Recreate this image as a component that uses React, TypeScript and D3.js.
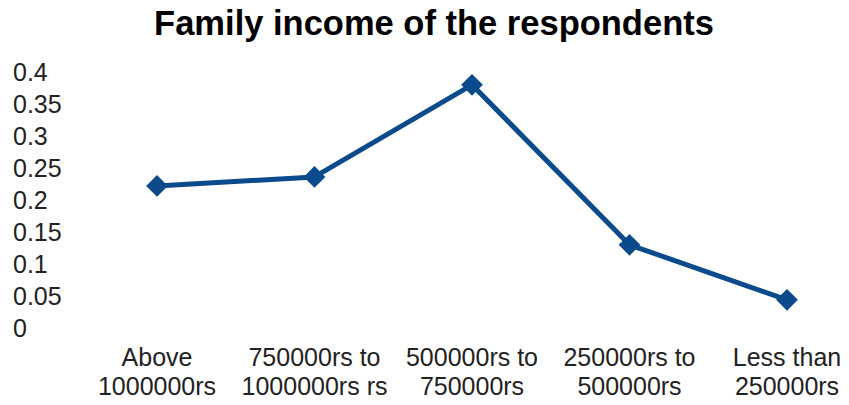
import React from "react";
import * as d3 from "d3";

const categories: string[][] = [
  ["Above", "1000000rs"],
  ["750000rs to", "1000000rs rs"],
  ["500000rs to", "750000rs"],
  ["250000rs to", "500000rs"],
  ["Less than", "250000rs"],
];
const values: number[] = [0.222, 0.236, 0.38, 0.13, 0.044];
const yTicks: number[] = [0, 0.05, 0.1, 0.15, 0.2, 0.25, 0.3, 0.35, 0.4];
const title = "Family income of the respondents";

const W = 849;
const H = 405;
const COLOR = "#0b4a8b";
const FONT = "'Liberation Sans', Arial, Helvetica, sans-serif";

export default function App() {
  const keys = categories.map((_, i) => String(i));
  const x = d3.scalePoint<string>().domain(keys).range([157, 787]);
  const y = d3.scaleLinear().domain([0, 0.4]).range([328, 72]);

  const line = d3
    .line<number>()
    .x((_, i) => x(String(i)) as number)
    .y((d) => y(d));

  const diamond = d3.symbol().type(d3.symbolDiamond2).size(300)();

  return (
    <svg
      width={W}
      height={H}
      style={{ position: "absolute", left: 0, top: 0, background: "#fff" }}
      fontFamily={FONT}
    >
      <text
        x={434}
        y={35}
        textAnchor="middle"
        fontSize={34.5}
        fontWeight="bold"
        fill="#000"
      >
        {title}
      </text>

      <g>
        {yTicks.map((t) => (
          <text
            key={t}
            x={13}
            y={y(t)}
            dy="0.35em"
            fontSize={25}
            fill="#222"
          >
            {String(t)}
          </text>
        ))}
      </g>

      <g>
        {categories.map((lines, i) => (
          <text
            key={i}
            x={x(String(i)) as number}
            y={366}
            textAnchor="middle"
            fontSize={25}
            fill="#222"
          >
            {lines.map((l, j) => (
              <tspan key={j} x={x(String(i)) as number} dy={j === 0 ? 0 : 29}>
                {l}
              </tspan>
            ))}
          </text>
        ))}
      </g>

      <path
        d={line(values) ?? ""}
        fill="none"
        stroke={COLOR}
        strokeWidth={5}
        strokeLinejoin="round"
      />
      {values.map((v, i) => (
        <path
          key={i}
          d={diamond ?? ""}
          transform={`translate(${x(String(i))},${y(v)})`}
          fill={COLOR}
        />
      ))}
    </svg>
  );
}
